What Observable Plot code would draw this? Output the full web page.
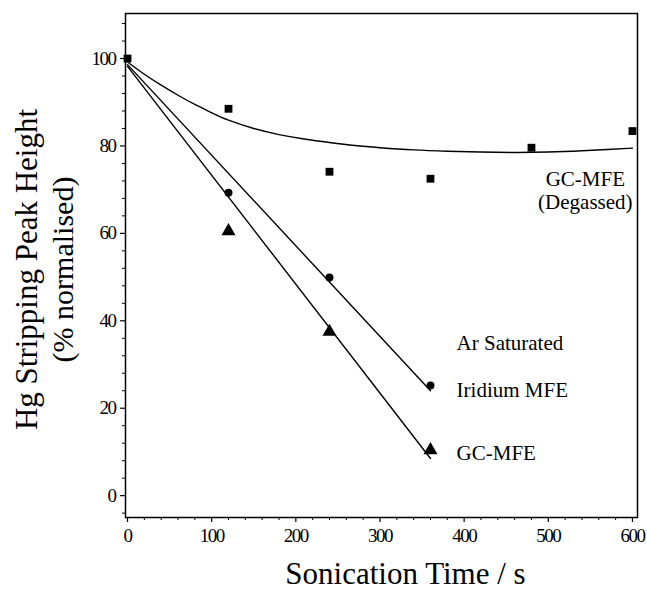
<!DOCTYPE html>
<html><head><meta charset="utf-8">
<script src="https://cdn.jsdelivr.net/npm/d3@7"></script>
<script src="https://cdn.jsdelivr.net/npm/@observablehq/plot@0.6"></script>
<style>
body{margin:0;background:#fff}
svg{display:block}
svg text{font-family:"Liberation Serif","Times New Roman",serif}
g[aria-label="x-axis tick label"] text, g[aria-label="y-axis tick label"] text{letter-spacing:-1.5px}
</style>
</head><body><div id="chart"></div>
<script>
// Measured data (sonication time in s, peak height in % normalised)
const degTimes = [0, 120, 240, 360, 480, 600];
const degValues = [100, 88.5, 74.1, 72.5, 79.6, 83.4];
// Ar saturated points (the t = 0 points are hidden under the square in the original)
const arTimes = [120, 240, 360];
const iridiumValues = [69.3, 49.9, 25.2];
const gcValues = [60.5, 37.5, 10.4];

// Fitted lines
const iridiumFitT = [0, 360];
const iridiumFitV = [98.6, 24.0];
const gcFitT = [0, 360];
const gcFitV = [98.2, 8.5];
const degFitT = [0, 20, 40, 60, 80, 100, 120, 150, 180, 210, 240, 270, 300, 340, 380, 420, 460, 500, 540, 570, 600];
const degFitV = [99.2, 96.4, 93.9, 91.6, 89.5, 87.6, 85.9, 84.0, 82.6, 81.6, 80.8, 80.1, 79.6, 79.1, 78.8, 78.6, 78.5, 78.6, 78.9, 79.2, 79.5];

// Axis ticks
const xMajor = [0, 100, 200, 300, 400, 500, 600];
const yMajor = [0, 20, 40, 60, 80, 100];
const xMinor = d3.range(0, 601, 20).filter(d => d % 100 !== 0);
const yMinor = d3.range(-4, 109, 4).filter(d => d % 20 !== 0);

// Annotations
const arLabels = ["Ar Saturated", "Iridium MFE", "GC-MFE"];
const arLabelT = [391, 391, 391];
const arLabelV = [34.8, 24.0, 9.8];
const degLabels = ["GC-MFE", "(Degassed)"];
const degLabelT = [544, 544];
const degLabelV = [72.3, 67.1];

const xTitle = "Sonication Time / s";
const yTitle1 = "Hg Stripping Peak Height";
const yTitle2 = "(% normalised)";

const zip = (ts, vs) => ts.map((t, i) => ({t, v: vs[i]}));
const lab = (texts, ts, vs) => texts.map((text, i) => ({text, t: ts[i], v: vs[i]}));

const font = "Liberation Serif";

const chart = Plot.plot({
  width: 647,
  height: 590,
  marginLeft: 125,
  marginRight: 10,
  marginTop: 13,
  marginBottom: 73,
  style: {fontFamily: font, fontSize: "19px", color: "black", background: "white"},
  x: {domain: [-2.4, 606], label: null},
  y: {domain: [-5.0, 110.3], label: null},
  marks: [
    Plot.axisX(xMinor, {tickSize: 3, text: null, label: null, strokeWidth: 1}),
    Plot.axisX(xMajor, {tickSize: 5, tickPadding: 6, label: null, fontSize: 19, fontFamily: font, strokeWidth: 1.2}),
    Plot.axisY(yMinor, {tickSize: 3, text: null, label: null, strokeWidth: 1}),
    Plot.axisY(yMajor, {tickSize: 5, tickPadding: 5, label: null, fontSize: 19, fontFamily: font, strokeWidth: 1.2}),
    Plot.frame({stroke: "black", strokeWidth: 1.5}),
    Plot.line(zip(degFitT, degFitV), {x: "t", y: "v", curve: "natural", stroke: "black", strokeWidth: 1.4}),
    Plot.line(zip(iridiumFitT, iridiumFitV), {x: "t", y: "v", stroke: "black", strokeWidth: 1.4}),
    Plot.line(zip(gcFitT, gcFitV), {x: "t", y: "v", stroke: "black", strokeWidth: 1.4}),
    Plot.dot(zip(arTimes, gcValues), {x: "t", y: "v", symbol: "triangle", r: 5.2, fill: "black", stroke: "none"}),
    Plot.dot(zip(arTimes, iridiumValues), {x: "t", y: "v", symbol: "circle", r: 4, fill: "black", stroke: "none"}),
    Plot.dot(zip(degTimes, degValues), {x: "t", y: "v", symbol: "square", r: 4.4, fill: "black", stroke: "none"}),
    Plot.text(lab(arLabels, arLabelT, arLabelV), {x: "t", y: "v", text: "text", textAnchor: "start", fontSize: 21, fontFamily: font, fill: "black"}),
    Plot.text(lab(degLabels, degLabelT, degLabelV), {x: "t", y: "v", text: "text", textAnchor: "middle", fontSize: 21, fontFamily: font, fill: "black"}),
    Plot.text([xTitle], {frameAnchor: "bottom", textAnchor: "middle", dx: 24, dy: 66, fontSize: 31, fontFamily: font, fill: "black", lineAnchor: "bottom"}),
    Plot.text([yTitle1], {frameAnchor: "left", textAnchor: "middle", dx: -89, dy: 4, rotate: -90, fontSize: 31, fontFamily: font, fill: "black", lineAnchor: "bottom"}),
    Plot.text([yTitle2], {frameAnchor: "left", textAnchor: "middle", dx: -53, dy: 4, rotate: -90, fontSize: 30, fontFamily: font, fill: "black", lineAnchor: "bottom"})
  ]
});
document.getElementById("chart").appendChild(chart);
</script>
</body></html>
